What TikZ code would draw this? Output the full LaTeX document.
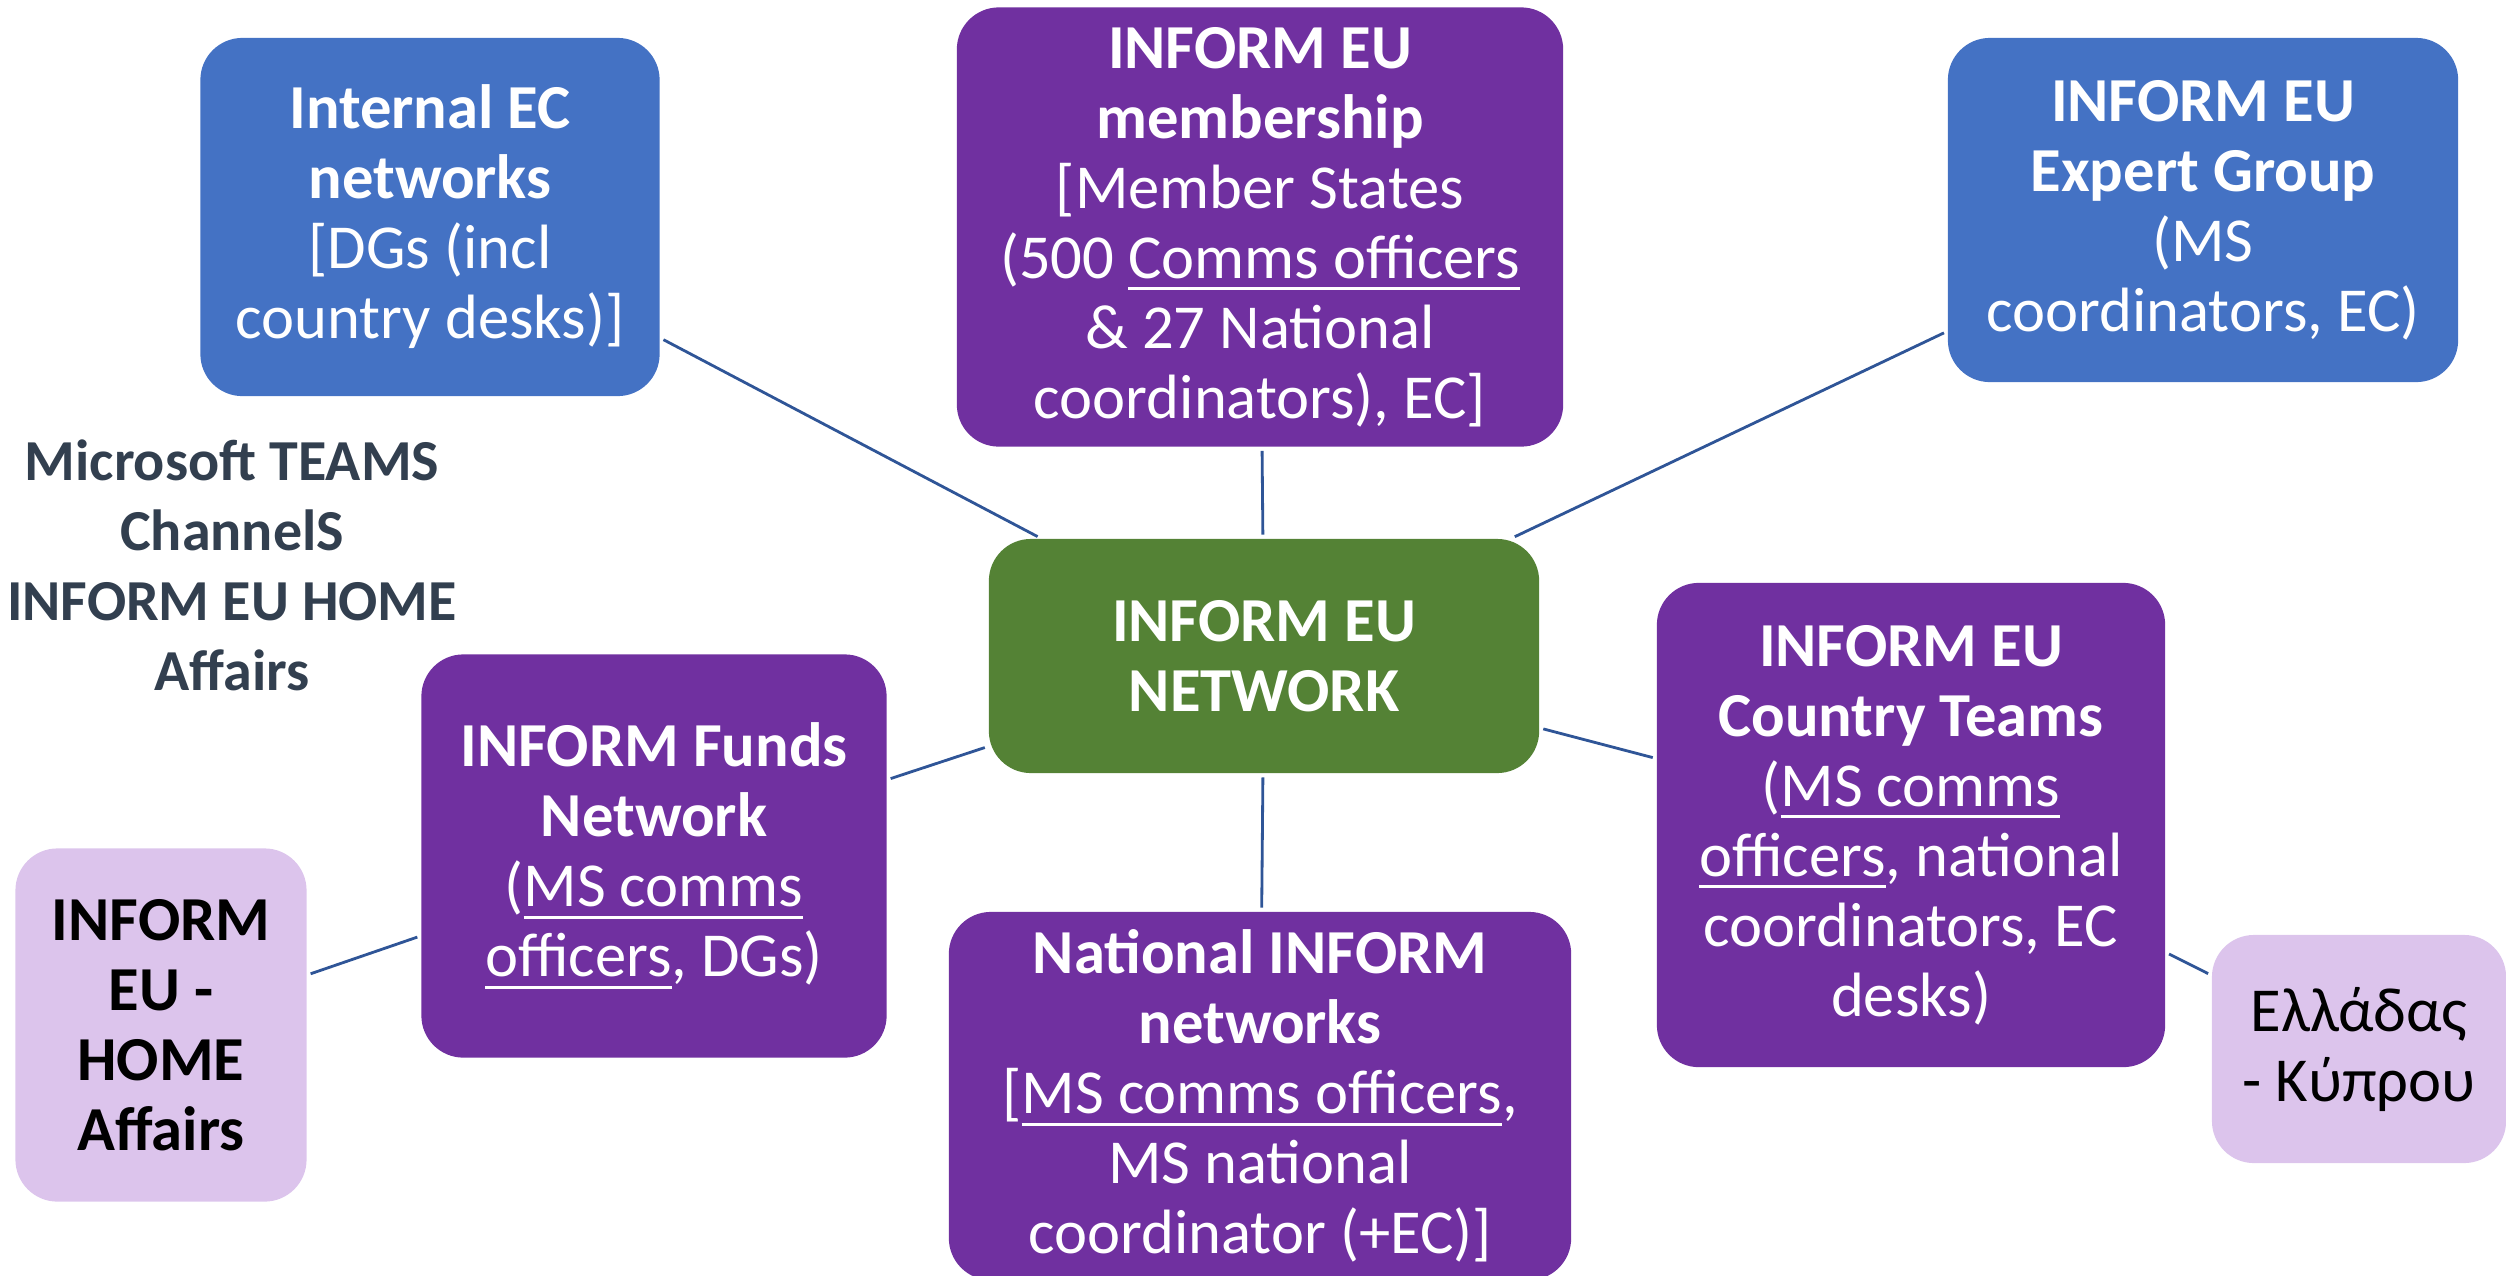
\documentclass[tikz,border=0pt]{standalone}
\usepackage{fontspec}
\setmainfont{Carlito}
\definecolor{BlueBox}{RGB}{68,114,196}
\definecolor{PurpleBox}{RGB}{112,48,160}
\definecolor{GreenBox}{RGB}{84,130,53}
\definecolor{LilacBox}{RGB}{220,196,236}
\definecolor{LinkColor}{RGB}{47,85,151}
\definecolor{TeamsText}{RGB}{50,63,79}
\usetikzlibrary{positioning}
\newcommand{\boxfont}{\fontsize{17.8pt}{19.9pt}\selectfont}
\newcommand{\uln}[1]{\leavevmode\vtop{\hbox{#1}\kern2.4pt\hrule height 0.9pt}}

\begin{document}
\begin{tikzpicture}[x=0.01cm, y=-0.01cm,
    netbox/.style={rounded corners=0.42cm, inner sep=0pt, align=center,
      font=\boxfont, text=white},
    bluebox/.style={netbox, fill=BlueBox},
    purplebox/.style={netbox, fill=PurpleBox},
    hubbox/.style={netbox, fill=GreenBox},
    lilacbox/.style={netbox, fill=LilacBox, text=black},
    linkline/.style={draw=LinkColor, line width=0.8pt, shorten <=1pt, shorten >=1pt}]
  \useasboundingbox (0,0) rectangle (2506,1275);

  % centre of the network
  \node[hubbox, minimum width=5.5cm, minimum height=2.34cm] (hub) at (1264,656)
    {\textbf{INFORM EU}\\\textbf{NETWORK}};

  % top row
  \node[bluebox, minimum width=4.59cm, minimum height=3.58cm] (intec) at (430,217)
    {\textbf{Internal EC}\\\textbf{networks}\\{}[DGs (incl\\country desks)]};
  \node[purplebox, minimum width=6.06cm, minimum height=4.39cm] (member) at (1260,227)
    {\textbf{INFORM EU}\\\textbf{membership}\\{}[Member States\\(500 \uln{Comms officers}\\\& 27 National\\coordinators), EC]};
  \node[bluebox, minimum width=5.1cm, minimum height=3.44cm] (expert) at (2203,210)
    {\textbf{INFORM EU}\\\textbf{Expert Group}\\(MS\\coordinators, EC)};

  % lower row
  \node[purplebox, minimum width=4.65cm, minimum height=4.03cm] (funds) at (654,856)
    {\textbf{INFORM Funds}\\\textbf{Network}\\(\uln{MS comms}\\\uln{officers}, DGs)};
  \node[purplebox, minimum width=6.22cm, minimum height=3.68cm] (natnet) at (1260,1096)
    {\textbf{National INFORM}\\\textbf{networks}\\{}[\uln{MS comms officers},\\MS national\\coordinator (+EC)]};
  \node[purplebox, minimum width=5.08cm, minimum height=4.84cm] (country) at (1911,825)
    {\textbf{INFORM EU}\\\textbf{Country Teams}\\(\uln{MS comms}\\\uln{officers}, national\\coordinators, EC\\desks)};

  % outer boxes
  \node[lilacbox, minimum width=2.91cm, minimum height=3.53cm] (home) at (161,1025)
    {\textbf{INFORM}\\\textbf{EU -}\\\textbf{HOME}\\\textbf{Affairs}};
  \node[lilacbox, minimum width=2.94cm, minimum height=2.28cm] (greek) at (2359,1049)
    {Ελλάδας\\- Κύπρου};

  % teams label
  \node[align=center, text=TeamsText, font=\fontsize{16.5pt}{19.9pt}\selectfont\bfseries]
    (teams) at (232,565) {Microsoft TEAMS\\ChannelS\\INFORM EU HOME\\Affairs};

  % links
  \draw[linkline] (intec) -- (hub);
  \draw[linkline] (member) -- (hub);
  \draw[linkline] (expert) -- (hub);
  \draw[linkline] (hub) -- (country);
  \draw[linkline] (hub) -- (natnet);
  \draw[linkline] (hub) -- (funds);
  \draw[linkline] (funds) -- (home);
  \draw[linkline] (country) -- (greek);
\end{tikzpicture}
\end{document}
